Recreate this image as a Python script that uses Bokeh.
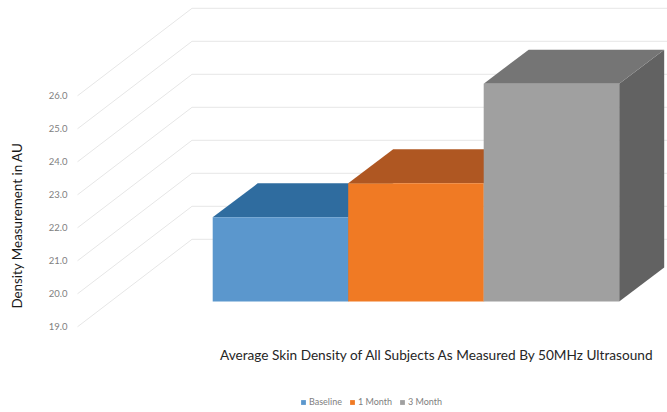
from bokeh.plotting import figure
from bokeh.models import ColumnDataSource, Label, Legend, LegendItem, FixedTicker, Range1d
from bokeh.embed import file_html
from bokeh.resources import INLINE

categories = ["Baseline", "1 Month", "3 Month"]
values = [21.55, 22.58, 25.6]
ticks = [19, 20, 21, 22, 23, 24, 25, 26]
tick_labels = ["19.0", "20.0", "21.0", "22.0", "23.0", "24.0", "25.0", "26.0"]
front_colors = ["#5b97cd", "#f07a24", "#a0a0a0"]
top_colors = ["#2f6c9f", "#af5722", "#757575"]
side_colors = ["#2a5f8c", "#9a4c1d", "#626262"]

FONT = "Lato"
W, H, LEFT = 667, 412, 72
PX_X, PX_Y = 135.5, 33.0          # pixels per bar width, per value unit
X0_PX, Y19_PX = 212.2, 326.3      # pixel of bar 0 left edge, of value 19 on wall
DX, DY = 45 / PX_X, 34 / PX_Y     # bar depth
WALL_X0, WALL_X1 = (77 - X0_PX) / PX_X, (191.5 - X0_PX) / PX_X
WALL_DY = 87.5 / PX_Y
LIFT = 25.3 / PX_Y                # bar front plane above wall front
BASE = ticks[0]

p = figure(width=W, height=H, output_backend="svg", toolbar_location=None,
           min_border_left=LEFT, min_border_right=0, min_border_top=0, min_border_bottom=0,
           x_range=Range1d((LEFT - X0_PX) / PX_X, (W - X0_PX) / PX_X),
           y_range=Range1d(19 - (H - Y19_PX) / PX_Y, 19 + Y19_PX / PX_Y),
           x_axis_location=None, background_fill_color=None, border_fill_color=None)
p.styles = {"position": "absolute", "left": "0", "top": "0"}
p.outline_line_color = None
p.grid.visible = False

ax = p.yaxis[0]
ax.ticker = FixedTicker(ticks=ticks)
ax.major_label_overrides = {t: s for t, s in zip(ticks, tick_labels)}
ax.axis_line_color = None
ax.major_tick_line_color = None
ax.minor_tick_line_color = None
ax.major_tick_out = 0
ax.major_label_standoff = 5
ax.major_label_text_font = FONT
ax.major_label_text_font_size = "9.5px"
ax.major_label_text_color = "#808080"

# gridlines on side wall and back wall
GRID = "#e6e6e6"
p.multi_line(xs=[[WALL_X0, WALL_X1, (W - X0_PX) / PX_X] for _ in ticks],
             ys=[[t, t + WALL_DY, t + WALL_DY] for t in ticks],
             line_color=GRID, line_width=1)

items = []
for i, (name, v) in enumerate(zip(categories, values)):
    b = BASE + LIFT
    t = v + LIFT
    l, r = i, i + 1
    p.patch([r, r + DX, r + DX, r], [b, b + DY, t + DY, t], fill_color=side_colors[i], line_color=None)
    p.patch([l, l + DX, r + DX, r], [t, t + DY, t + DY, t], fill_color=top_colors[i], line_color=None)
    src = ColumnDataSource(dict(l=[l], r=[r], b=[b], t=[t]))
    q = p.quad(left="l", right="r", bottom="b", top="t", source=src, fill_color=front_colors[i], line_color=None)
    items.append(LegendItem(label=name, renderers=[q]))

legend = Legend(items=items, orientation="horizontal", location=(304 - LEFT - 4, 5),
                background_fill_alpha=0, border_line_color=None,
                glyph_width=6, glyph_height=6, label_text_font=FONT, label_text_font_size="9px",
                label_text_color="#808080", spacing=7, label_standoff=3, padding=4, margin=0,
                label_height=9)
p.add_layout(legend, "center")

to_x = lambda px: (px - X0_PX) / PX_X
to_y = lambda py: 19 + (Y19_PX - py) / PX_Y
p.add_layout(Label(x=to_x(219.5), y=to_y(354.5), text="Average Skin Density of All Subjects  As Measured By 50MHz Ultrasound",
                   text_font=FONT, text_font_size="13.65px", text_color="#262626",
                   text_align="left", text_baseline="middle"))
p.add_layout(Label(x=16, y=225, x_units="canvas", y_units="canvas",
                   text="Density Measurement in AU", angle=90, angle_units="deg",
                   text_font=FONT, text_font_size="13.4px", text_color="#1a1a1a",
                   text_align="center", text_baseline="middle"), "left")

open("out.html", "w").write(file_html(p, INLINE))
